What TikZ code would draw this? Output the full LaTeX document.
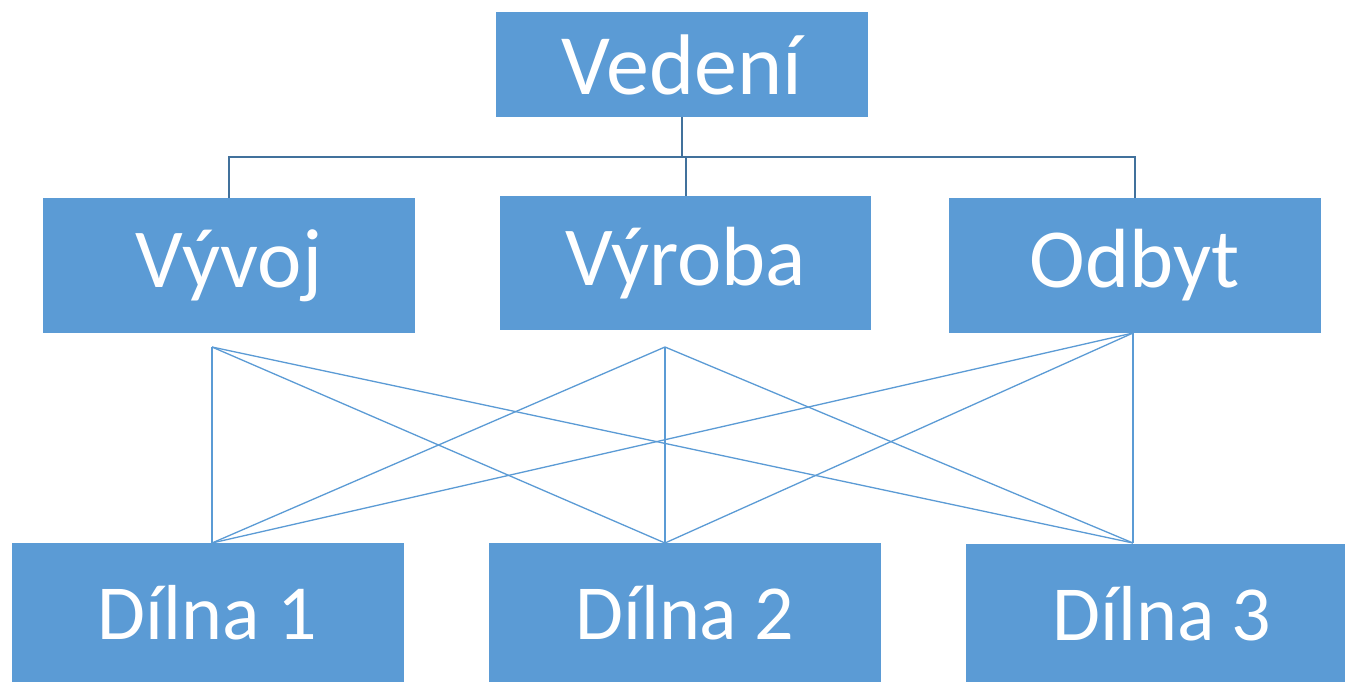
\documentclass[tikz,border=0pt]{standalone}
\usepackage{fontspec}
\setmainfont{Carlito}
\definecolor{boxblue}{HTML}{5B9BD5}
\definecolor{linkblue}{HTML}{41719C}

\begin{document}
\begin{tikzpicture}[x=1pt,y=1pt]
\tikzstyle{every node}+=[inner sep=0pt]
\tikzstyle{unit}=[rectangle,fill=boxblue,text=white,minimum width=372pt,minimum height=135pt,font=\fontsize{84}{84}\selectfont]
\tikzstyle{shop}=[unit,minimum width=392pt,minimum height=140pt,font=\fontsize{78}{78}\selectfont]
\tikzstyle{bus}=[draw=linkblue,line width=2pt]
\tikzstyle{web}=[draw=boxblue,line width=1.3pt]
\clip (0,0) rectangle (1345,-681);
\fill [white] (0,0) rectangle (1345,-681);
% top level
\node [unit,minimum height=105pt,font=\fontsize{86}{86}\selectfont] (ved) at (682,-64.5) {Vedení};
% departments
\node [unit] (vyv) at (229,-265.5) {Vývoj};
\node [unit,minimum width=371pt,minimum height=134pt] (vyr) at (685.5,-263) {Výroba};
\node [unit] (odb) at (1135,-265.5) {Odbyt};
% workshops
\node [shop] (dil1) at (207.5,-613) {Dílna 1};
\node [shop] (dil2) at (685,-613) {Dílna 2};
\node [shop] (dil3) at (1162,-614) {Dílna 3};
% tree lines
\coordinate (bus) at (682,-157);
\draw [bus] (ved.south) -- (bus);
\draw [bus] (vyv.north) |- (bus) -| (odb.north);
\draw [bus] (vyr.north) -- (vyr.north |- bus);
% cross links
\coordinate (t1) at (212,-347);
\coordinate (t2) at (665,-347);
\coordinate (t3) at (1133,-333);
\coordinate (b1) at (212,-543);
\coordinate (b2) at (665,-543);
\coordinate (b3) at (1133,-543);
\foreach \i in {1,2,3}
  \foreach \j in {1,2,3}
    \draw [web] (t\i) -- (b\j);
\end{tikzpicture}
\end{document}
